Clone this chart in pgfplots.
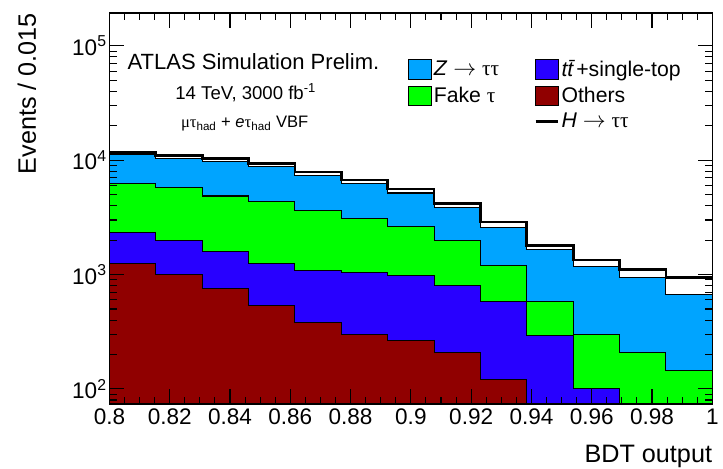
\documentclass[border=0pt]{standalone}
\usepackage{fontspec}
\setmainfont{Liberation Sans}
\newfontfamily\sym{Liberation Serif}
\usepackage{pgfplots}
\pgfplotsset{compat=1.18}
\usepackage{pgfplotstable}

\definecolor{zcol}{RGB}{0,164,255}
\definecolor{fcol}{RGB}{0,255,0}
\definecolor{tcol}{RGB}{40,0,255}
\definecolor{ocol}{RGB}{144,0,0}

\pgfplotsset{
  boxlegend/.style={legend image code/.code={\draw[##1] (0cm,-0.26cm) rectangle (0.6cm,0.26cm);}},
  linelegend/.style={legend image code/.code={\draw[##1] (0cm,0cm) -- (0.6cm,0cm);}},
}

% bin left edges (13 bins of 0.2/13) ; stacked tops
\pgfplotstableread{
x        H      Z      F     T     O
0.800000 11740  11160  6310  2318  1246
0.815385 11050  10300  5824  1976  1000
0.830769 10300  9800   4864  1585  755
0.846154 9324   8870   4313  1246  538
0.861538 7864   7406   3602  1083  382
0.876923 6699   6310   3069  1041  301
0.892308 5595   5164   2615  980   267
0.907692 4184   3863   1976  802   210
0.923077 2890   2588   1198  582   120
0.938462 1805   1650   582   295   1
0.953846 1337   1181   301   100   1
0.969231 1105   942    210   1     1
0.984615 942    670    146   1     1
1.000000 942    670    146   1     1
}\hist

\begin{document}
\begin{tikzpicture}
\begin{axis}[name=ax, scale only axis, width=454.5pt, height=294.75pt,
  ymode=log, xmin=0.8, xmax=1, ymin=74, ymax=1.94e5,
  log origin=infty,
  axis on top,
  tick pos=both, tick align=inside,
  major tick length=11pt, minor tick length=5.5pt,
  every tick/.style={black, line width=0.8pt},
  axis line style={line width=1pt},
  xtick={0.8,0.82,0.84,0.86,0.88,0.9,0.92,0.94,0.96,0.98,1},
  xticklabels={0.8,0.82,0.84,0.86,0.88,0.9,0.92,0.94,0.96,0.98,1},
  minor x tick num=3,
  ytick={100,1000,10000,100000},
  yticklabels={10\textsuperscript{2},10\textsuperscript{3},10\textsuperscript{4},10\textsuperscript{5}},
  minor ytick={80,90,200,300,400,500,600,700,800,900,2000,3000,4000,5000,6000,7000,8000,9000,20000,30000,40000,50000,60000,70000,80000,90000},
  tick label style={font=\fontsize{17}{20}\selectfont},
  yticklabel style={xshift=1.5pt},
  xlabel={BDT output}, ylabel={Events / 0.015},
  label style={font=\fontsize{19}{22}\selectfont},
  ylabel style={at={(rel axis cs:-0.1221,1)}, anchor=base east, inner sep=0pt},
  xlabel style={at={(rel axis cs:1,-0.150)}, anchor=base east, inner sep=0pt},
  legend style={at={(rel axis cs:0.495,0.8855)}, anchor=north west, draw=none, fill=none,
    inner sep=0pt, font=\fontsize{16}{19}\selectfont, row sep=3.5pt,
    nodes={inner sep=1.5pt},
    /tikz/every even column/.append style={column sep=25pt}},
  legend columns=2, legend cell align=left,
]
\addplot[const plot, fill=zcol, draw=black, line width=0.8pt, forget plot] table[x=x,y=Z]{\hist} \closedcycle;
\addplot[const plot, fill=fcol, draw=black, line width=0.8pt, forget plot] table[x=x,y=F]{\hist} \closedcycle;
\addplot[const plot, fill=tcol, draw=black, line width=0.8pt, forget plot] table[x=x,y=T]{\hist} \closedcycle;
\addplot[const plot, fill=ocol, draw=black, line width=0.8pt, forget plot] table[x=x,y=O]{\hist} \closedcycle;
\addplot[const plot, black, line width=2pt, forget plot] table[x=x,y=H]{\hist};

\addlegendimage{boxlegend, fill=zcol, draw=black, line width=0.8pt}
\addlegendentry{\textit{Z} $\rightarrow$ {\sym ττ}}
\addlegendimage{boxlegend, fill=tcol, draw=black, line width=0.8pt}
\addlegendentry{\textit{t\=t}+single-top}
\addlegendimage{boxlegend, fill=fcol, draw=black, line width=0.8pt}
\addlegendentry{Fake {\sym τ}}
\addlegendimage{boxlegend, fill=ocol, draw=black, line width=0.8pt}
\addlegendentry{Others}
\addlegendimage{empty legend}
\addlegendentry{}
\addlegendimage{linelegend, black, line width=2pt}
\addlegendentry{\textit{H} $\rightarrow$ {\sym ττ}}

\node[anchor=base west, inner sep=0pt, font=\fontsize{16.6}{19}\selectfont] at (rel axis cs:0.0297,0.855) {ATLAS Simulation Prelim.};
\node[anchor=base west, inner sep=0pt, font=\fontsize{14}{16}\selectfont] at (rel axis cs:0.109,0.7786) {14 TeV, 3000 fb\textsuperscript{-1}};
\node[anchor=base west, inner sep=0pt, font=\fontsize{12.5}{14}\selectfont] at (rel axis cs:0.1183,0.7074) {{\sym μτ}\textsubscript{had} + \textit{e}{\sym τ}\textsubscript{had} VBF};
\end{axis}
\path ([shift={(-82.5pt,-48.75pt)}]ax.south west) rectangle ([shift={(5.25pt,9.75pt)}]ax.north east);
\end{tikzpicture}
\end{document}
